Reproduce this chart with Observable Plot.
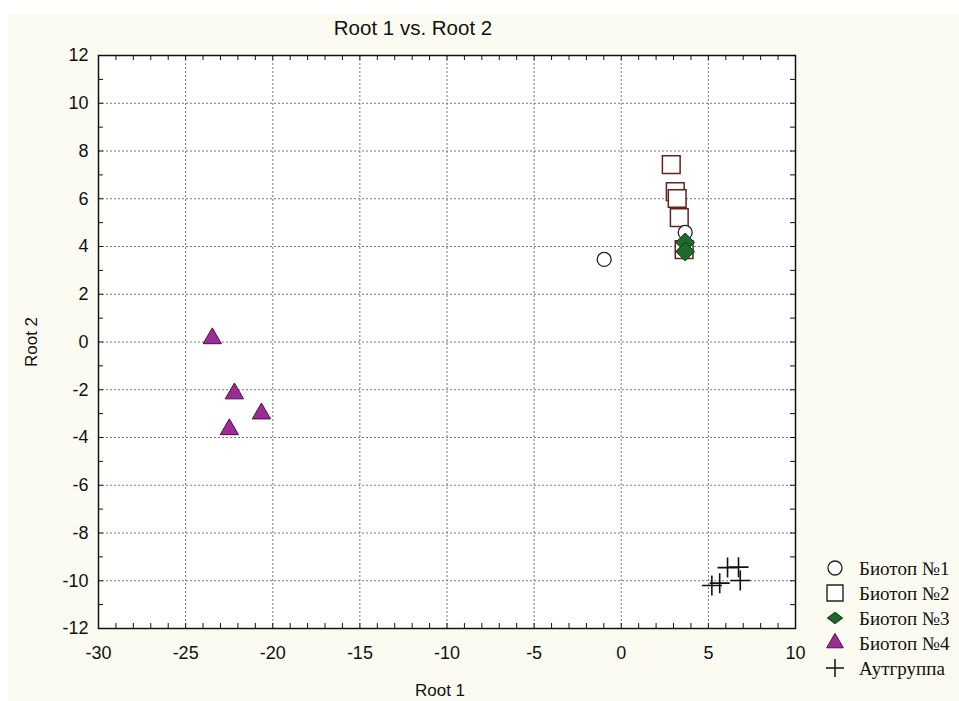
<!DOCTYPE html>
<html><head><meta charset="utf-8">
<script src="https://cdn.jsdelivr.net/npm/d3@7"></script>
<script src="https://cdn.jsdelivr.net/npm/@observablehq/plot@0.6"></script>
<style>
html,body{margin:0;padding:0;background:#fff;}
#chart{position:relative;width:959px;height:701px;}
svg{display:block;}
</style></head><body><div id="chart"></div>
<script>
// ---- data ----
const seriesNames = ["Биотоп №1", "Биотоп №2", "Биотоп №3", "Биотоп №4", "Аутгруппа"];
const biotop1X = [-0.98, 3.67];
const biotop1Y = [3.46, 4.59];
const biotop2X = [2.87, 3.10, 3.21, 3.33, 3.61];
const biotop2Y = [7.43, 6.30, 6.01, 5.21, 3.87];
const biotop3X = [3.67, 3.67];
const biotop3Y = [4.17, 3.79];
const biotop4X = [-23.47, -22.20, -20.65, -22.49];
const biotop4Y = [0.15, -2.16, -3.00, -3.66];
const outgroupX = [5.20, 5.65, 6.10, 6.73, 6.83];
const outgroupY = [-10.20, -10.10, -9.45, -9.43, -9.99];
const xTicks = [-30, -25, -20, -15, -10, -5, 0, 5, 10];
const yTicks = [-12, -10, -8, -6, -4, -2, 0, 2, 4, 6, 8, 10, 12];
const xMinor = d3.range(-29, 10, 1);
const yMinor = d3.range(-11, 12, 1);
const xGrid = xTicks.slice(1, -1);
const yGrid = yTicks.slice(1, -1);
const titleText = "Root 1 vs. Root 2";
const xLabel = "Root 1";
const yLabel = "Root 2";

const rows = (xs, ys) => xs.map((x, i) => ({x, y: ys[i]}));

// ---- layout ----
const W = 959, H = 701, mt = 55, mb = 73, ml = 98, mr = 164;
const innerH = H - mt - mb, innerW = W - ml - mr;
const tickLen = 5;

const plusSymbol = {
  draw(ctx, size) {
    const h = Math.sqrt(size / Math.PI);
    ctx.moveTo(-h, 0); ctx.lineTo(h, 0);
    ctx.moveTo(0, -h); ctx.lineTo(0, h);
  }
};

const styles = [
  {symbol: "circle", r: 7, fill: "white", stroke: "#222", strokeWidth: 1.3},
  {symbol: "square", r: 10, fill: "white", stroke: "#6b1f1f", strokeWidth: 1.5},
  {symbol: "diamond2", r: 8.5, fill: "#1d6a2c", stroke: "#0e3a17", strokeWidth: 1},
  {symbol: "triangle", r: 6.8, fill: "#9b2c95", stroke: "#4a1046", strokeWidth: 1},
  {symbol: plusSymbol, r: 10, fill: "none", stroke: "#111", strokeWidth: 1.6}
];

const data = [
  rows(biotop1X, biotop1Y),
  rows(biotop2X, biotop2Y),
  rows(biotop3X, biotop3Y),
  rows(biotop4X, biotop4Y),
  rows(outgroupX, outgroupY)
];
const drawOrder = [1, 0, 2, 3, 4];

const plot = Plot.plot({
  width: W, height: H,
  marginTop: mt, marginBottom: mb, marginLeft: ml, marginRight: mr,
  style: {background: "transparent", fontFamily: "'Liberation Sans', Arial, sans-serif", fontSize: "18px", color: "#111"},
  x: {domain: [-30, 10]},
  y: {domain: [-12, 12]},
  marks: [
    Plot.frame({fill: "white"}),
    Plot.ruleX(xGrid, {stroke: "#777", strokeDasharray: "2,2", strokeWidth: 1}),
    Plot.ruleY(yGrid, {stroke: "#777", strokeDasharray: "2,2", strokeWidth: 1}),
    Plot.tickX(xMinor, {x: d => d, insetTop: innerH - tickLen, stroke: "#111"}),
    Plot.tickX(xMinor, {x: d => d, insetBottom: innerH - tickLen, stroke: "#111"}),
    Plot.tickY(yMinor, {y: d => d, insetRight: innerW - tickLen, stroke: "#111"}),
    Plot.tickY(yMinor, {y: d => d, insetLeft: innerW - tickLen, stroke: "#111"}),
    Plot.axisX({ticks: xTicks, tickSize: 0, tickPadding: 18, tickFormat: d => String(d), label: null, fontSize: 18}),
    Plot.axisY({ticks: yTicks, tickSize: 0, tickPadding: 10, tickFormat: d => String(d), label: null, fontSize: 18}),
    Plot.frame({stroke: "#111", strokeWidth: 1.5}),
    ...drawOrder.map(i => Plot.dot(data[i], {x: "x", y: "y", ...styles[i]}))
  ]
});

const svg = d3.select(plot);
// background
svg.insert("rect", ":first-child").attr("x", 8).attr("y", 14).attr("width", W - 8).attr("height", H - 14).attr("fill", "#fcfbf2");
svg.insert("rect", ":first-child").attr("x", 0).attr("y", 0).attr("width", W).attr("height", H).attr("fill", "#ffffff");

svg.append("text").attr("x", 413).attr("y", 28).attr("dy", "0.35em").attr("text-anchor", "middle")
  .attr("font-family", "'Liberation Sans', Arial, sans-serif").attr("font-size", 20.5).attr("fill", "#111").text(titleText);
svg.append("text").attr("x", 440).attr("y", 690).attr("dy", "0.35em").attr("text-anchor", "middle")
  .attr("font-family", "'Liberation Sans', Arial, sans-serif").attr("font-size", 17).attr("fill", "#111").text(xLabel);
svg.append("text").attr("transform", "translate(31,342) rotate(-90)").attr("dy", "0.35em").attr("text-anchor", "middle")
  .attr("font-family", "'Liberation Sans', Arial, sans-serif").attr("font-size", 17).attr("fill", "#111").text(yLabel);

// legend
const legendSyms = [
  {type: d3.symbolCircle, size: Math.PI * 7 * 7, fill: "white", stroke: "#222", sw: 1.3},
  {type: d3.symbolSquare, size: 16 * 16, fill: "white", stroke: "#222", sw: 1.4},
  {type: d3.symbolDiamond2, size: 110, fill: "#1d6a2c", stroke: "#0e3a17", sw: 1},
  {type: d3.symbolTriangle, size: 120, fill: "#9b2c95", stroke: "#4a1046", sw: 1},
  {type: plusSymbol, size: Math.PI * 9 * 9, fill: "none", stroke: "#111", sw: 1.5}
];
const lg = svg.append("g").attr("transform", "translate(835,568)");
seriesNames.forEach((name, i) => {
  const g = lg.append("g").attr("transform", `translate(0,${i * 25})`);
  const s = legendSyms[i];
  g.append("path").attr("d", d3.symbol().type(s.type).size(s.size)()).attr("fill", s.fill).attr("stroke", s.stroke).attr("stroke-width", s.sw)
    .attr("transform", i === 2 ? "scale(1.15,0.85)" : null);
  g.append("text").attr("x", 24).attr("dy", "0.35em").attr("text-anchor", "start")
    .attr("font-family", "'Liberation Serif', 'Times New Roman', serif")
    .attr("font-size", 19).attr("fill", "#111").text(name);
});

document.getElementById("chart").appendChild(plot);
</script>
</body></html>
